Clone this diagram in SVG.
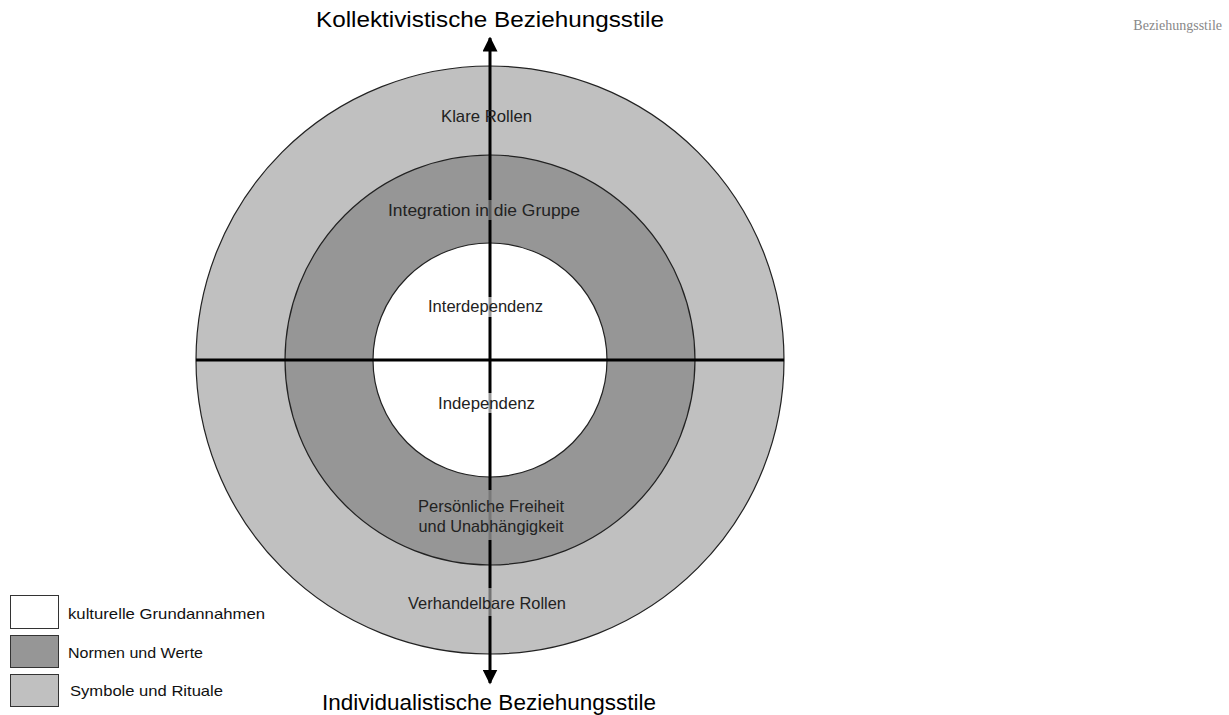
<svg xmlns="http://www.w3.org/2000/svg" width="1229" height="715" viewBox="0 0 1229 715">
<style>
.ring{stroke:#222;stroke-width:1.2}
.lbl{font-family:"Liberation Sans",Arial,sans-serif;font-size:16.5px;fill:#222;text-anchor:middle}
.ttl{font-family:"Liberation Sans",Arial,sans-serif;font-size:22px;fill:#000;text-anchor:middle}
.leg{font-family:"Liberation Sans",Arial,sans-serif;font-size:14.5px;fill:#111}
.box{stroke:#333;stroke-width:1}
.axis{stroke:#000;stroke-width:3;fill:none}
</style>
<defs>
<marker id="ah" viewBox="0 0 10 10" refX="9" refY="5" markerWidth="5" markerHeight="5" orient="auto" markerUnits="strokeWidth">
<path d="M0,0 L10,5 L0,10 Z" fill="#000"/>
</marker>
</defs>
<rect width="1229" height="715" fill="#fff"/>
<g id="outer"><circle class="ring" cx="490" cy="360" r="294" fill="#c0c0c0"/></g>
<g id="middle"><circle class="ring" cx="490" cy="360" r="205" fill="#969696"/></g>
<g id="inner"><circle class="ring" cx="490" cy="360" r="117" fill="#ffffff"/></g>
<g id="connectors">
<line class="axis" x1="490" y1="360" x2="490" y2="38" marker-end="url(#ah)"/>
<line class="axis" x1="490" y1="360" x2="490" y2="683" marker-end="url(#ah)"/>
<line class="axis" x1="196" y1="360" x2="784" y2="360"/>
</g>
<g id="labelbg">
<rect x="486" y="200" width="8" height="20" fill="#969696" opacity="0.6"/>
<rect x="486" y="297" width="8" height="20" fill="#ffffff" opacity="0.6"/>
<rect x="486" y="393" width="8" height="20" fill="#ffffff" opacity="0.6"/>
<rect x="486" y="490" width="8" height="50" fill="#969696" opacity="0.8"/>
<rect x="486" y="588" width="8" height="28" fill="#c0c0c0" opacity="0.6"/>
</g>
<g id="labels">
<text class="lbl" x="486.5" y="122" textLength="91" lengthAdjust="spacingAndGlyphs">Klare Rollen</text>
<text class="lbl" x="484" y="216" textLength="192" lengthAdjust="spacingAndGlyphs">Integration in die Gruppe</text>
<text class="lbl" x="485.5" y="312" textLength="115" lengthAdjust="spacingAndGlyphs">Interdependenz</text>
<text class="lbl" x="486.5" y="409" textLength="97" lengthAdjust="spacingAndGlyphs">Independenz</text>
<text class="lbl" x="491" y="512" textLength="146" lengthAdjust="spacingAndGlyphs">Persönliche Freiheit</text>
<text class="lbl" x="491" y="532" textLength="145" lengthAdjust="spacingAndGlyphs">und Unabhängigkeit</text>
<text class="lbl" x="487" y="609" textLength="158" lengthAdjust="spacingAndGlyphs">Verhandelbare Rollen</text>
</g>
<g id="titles">
<text class="ttl" x="490" y="27" textLength="348" lengthAdjust="spacingAndGlyphs">Kollektivistische Beziehungsstile</text>
<text class="ttl" x="489" y="710" textLength="334" lengthAdjust="spacingAndGlyphs">Individualistische Beziehungsstile</text>
<text x="1222" y="30" text-anchor="end" font-family="'Liberation Serif','Times New Roman',serif" font-size="14" fill="#888">Beziehungsstile</text>
</g>
<g id="legend">
<rect class="box" x="10.5" y="595.5" width="48" height="33" fill="#fff"/>
<rect class="box" x="10.5" y="635.5" width="48" height="32" fill="#969696"/>
<rect class="box" x="10.5" y="674.5" width="48" height="32" fill="#c0c0c0"/>
<text class="leg" x="68" y="619" textLength="197" lengthAdjust="spacingAndGlyphs">kulturelle  Grundannahmen</text>
<text class="leg" x="68" y="658" textLength="135" lengthAdjust="spacingAndGlyphs">Normen und Werte</text>
<text class="leg" x="70" y="696" textLength="153" lengthAdjust="spacingAndGlyphs">Symbole und Rituale</text>
</g>
</svg>
